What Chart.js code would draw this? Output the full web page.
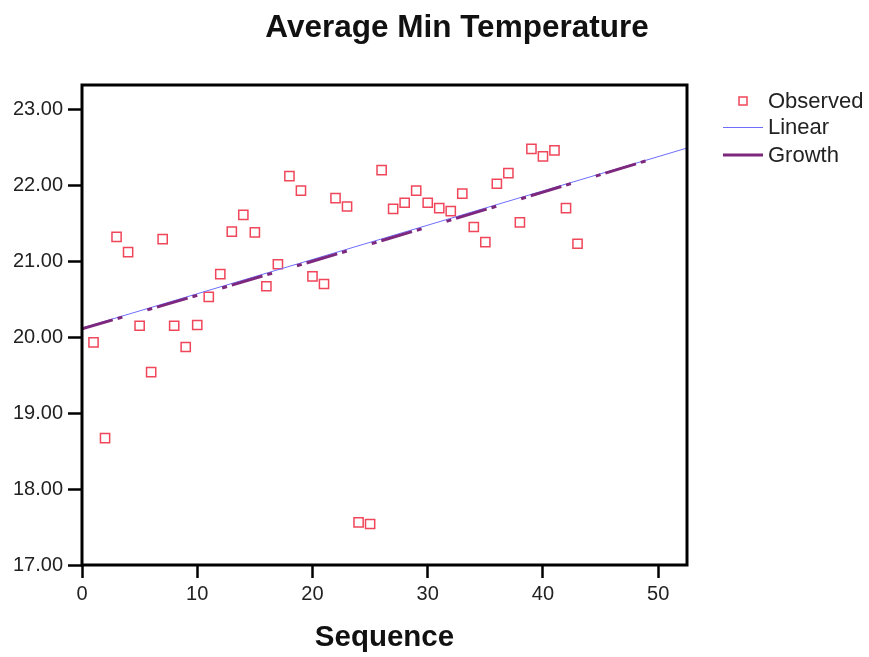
<!DOCTYPE html>
<html>
<head>
<meta charset="utf-8">
<script src="https://cdn.jsdelivr.net/npm/chart.js@4.4.0/dist/chart.umd.min.js"></script>
<style>
    html, body { margin: 0; padding: 0; background: #ffffff; }
    #tempChart { display: block; }
</style>
</head>
<body>
<canvas id="tempChart" width="869" height="657"></canvas>
<script>
// observed values, one per sequence number
const sequence = [1, 2, 3, 4, 5, 6, 7, 8, 9, 10, 11, 12, 13, 14, 15, 16, 17, 18, 19, 20, 21, 22,
    23, 24, 25, 26, 27, 28, 29, 30, 31, 32, 33, 34, 35, 36, 37, 38, 39, 40, 41, 42, 43]
const observed = [19.93, 18.67, 21.32, 21.12, 20.15, 19.54, 21.29, 20.15, 19.87, 20.16, 20.53,
    20.83, 21.39, 21.61, 21.38, 20.67, 20.96, 22.12, 21.93, 20.80, 20.70, 21.83, 21.72, 17.56,
    17.54, 22.20, 21.69, 21.77, 21.93, 21.77, 21.70, 21.66, 21.89, 21.45, 21.25, 22.02, 22.16,
    21.51, 22.48, 22.38, 22.46, 21.70, 21.23]

// fitted lines
const linearX = [0, 52.5]
const linearY = [20.12, 22.49]
const growthX = [0, 10, 20, 30, 40, 50]
const growthY = [20.11, 20.55, 21.00, 21.45, 21.91, 22.37]

const xTicks = [0, 10, 20, 30, 40, 50]
const yTicks = [17, 18, 19, 20, 21, 22, 23]

const chartTitle = 'Average Min Temperature'
const legendLabels = ['Observed', 'Linear', 'Growth']

const fontFamily = '"Liberation Sans", Arial, sans-serif'
const observedColor = 'rgb(240, 70, 90)'
const linearColor = 'rgb(110, 110, 255)'
const growthColor = 'rgb(125, 40, 125)'

const titleAndLegend = {
    id: 'titleAndLegend',
    afterDraw(chart) {
        const ctx = chart.ctx
        const area = chart.chartArea
        ctx.save()

        // frame round the plot
        ctx.strokeStyle = '#000000'
        ctx.lineWidth = 3
        ctx.strokeRect(area.left, area.top, area.right - area.left, area.bottom - area.top)

        // title, centred on the whole picture
        ctx.fillStyle = '#111111'
        ctx.font = 'bold 31.5px ' + fontFamily
        ctx.textAlign = 'center'
        ctx.textBaseline = 'alphabetic'
        ctx.fillText(chartTitle, 457, 37)

        // legend
        ctx.strokeStyle = observedColor
        ctx.lineWidth = 1.5
        ctx.strokeRect(739, 97, 8, 8)

        ctx.strokeStyle = linearColor
        ctx.lineWidth = 1
        ctx.beginPath()
        ctx.moveTo(723, 127.5)
        ctx.lineTo(763, 127.5)
        ctx.stroke()

        ctx.strokeStyle = growthColor
        ctx.lineWidth = 3
        ctx.beginPath()
        ctx.moveTo(723, 155)
        ctx.lineTo(763, 155)
        ctx.stroke()

        ctx.fillStyle = '#222222'
        ctx.font = '22px ' + fontFamily
        ctx.textBaseline = 'middle'
        ctx.textAlign = 'left'
        ctx.fillText(legendLabels[0], 768, 102)
        ctx.fillText(legendLabels[1], 768, 128)
        ctx.fillText(legendLabels[2], 768, 156)
        ctx.restore()
    }
}

const context = document.getElementById('tempChart').getContext('2d')

new Chart(context, {
    type: 'scatter',
    data: {
        datasets: [{
            label: 'Growth',
            type: 'line',
            data: growthX.map((x, i) => ({ x: x, y: growthY[i] })),
            borderColor: growthColor,
            borderWidth: 3,
            borderDash: [32, 5, 5, 26, 5, 5],
            pointRadius: 0,
            tension: 0,
            fill: false
        }, {
            label: 'Linear',
            type: 'line',
            data: linearX.map((x, i) => ({ x: x, y: linearY[i] })),
            borderColor: linearColor,
            borderWidth: 1,
            pointRadius: 0,
            tension: 0,
            fill: false
        }, {
            label: 'Observed',
            data: sequence.map((x, i) => ({ x: x, y: observed[i] })),
            pointStyle: 'rect',
            pointRadius: 6.5,
            pointBorderWidth: 1.5,
            pointBorderColor: observedColor,
            pointBackgroundColor: 'rgba(255, 255, 255, 0)'
        }]
    },
    options: {
        responsive: false,
        animation: false,
        layout: {
            padding: { top: 85, right: 182, bottom: 0, left: 0 }
        },
        plugins: {
            legend: { display: false },
            tooltip: { enabled: false },
            title: { display: false }
        },
        scales: {
            x: {
                type: 'linear',
                min: 0,
                max: 52.5,
                afterBuildTicks: (scale) => { scale.ticks = xTicks.map(v => ({ value: v })) },
                afterFit: (scale) => { scale.height = 92 },
                border: { display: false },
                grid: {
                    drawOnChartArea: false,
                    drawTicks: true,
                    tickLength: 13,
                    tickWidth: 2.5,
                    tickColor: '#000000'
                },
                ticks: {
                    color: '#222222',
                    padding: 4,
                    maxRotation: 0,
                    font: { family: fontFamily, size: 20 },
                    callback: (value) => value.toString()
                },
                title: {
                    display: true,
                    text: 'Sequence',
                    color: '#111111',
                    font: { family: fontFamily, size: 29.5, weight: 'bold' },
                    padding: { bottom: 1 }
                }
            },
            y: {
                type: 'linear',
                min: 17,
                max: 23.32,
                afterBuildTicks: (scale) => { scale.ticks = yTicks.map(v => ({ value: v })) },
                afterFit: (scale) => { scale.width = 82 },
                border: { display: false },
                grid: {
                    drawOnChartArea: false,
                    drawTicks: true,
                    tickLength: 14,
                    tickWidth: 2.5,
                    tickColor: '#000000'
                },
                ticks: {
                    color: '#222222',
                    padding: 5,
                    font: { family: fontFamily, size: 20 },
                    callback: (value) => value.toFixed(2)
                }
            }
        }
    },
    plugins: [titleAndLegend]
});
</script>
</body>
</html>
